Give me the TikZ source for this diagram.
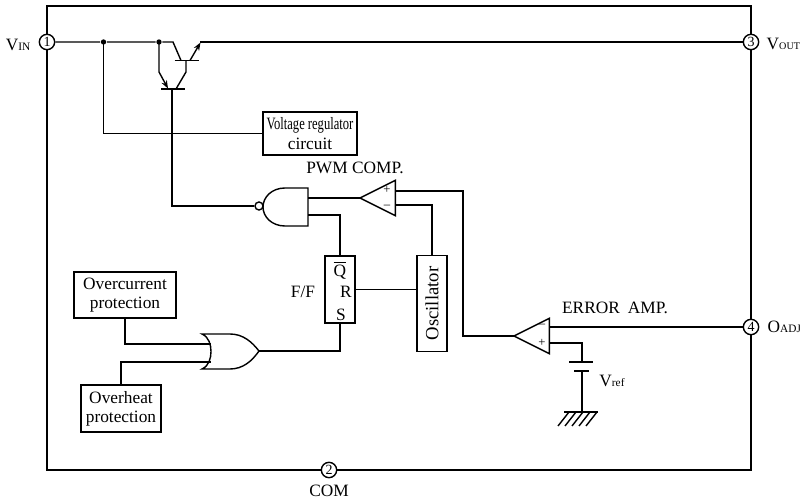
\documentclass[tikz,border=0pt]{standalone}
\usepackage{amsmath,amssymb}
\usepackage{fontspec}
\setmainfont{Liberation Serif}
\usepackage{xcolor}
\usepackage{tikz}
\usetikzlibrary{shapes.geometric,arrows.meta}
\newcommand{\lbsize}{\fontsize{13}{14.5}\selectfont}
\newcommand{\subtxt}[1]{{\fontsize{8.5}{10}\selectfont #1}}

\begin{document}
\begin{tikzpicture}[
    x=0.75pt, y=-0.75pt,
    every path/.style={line width=1.05pt, line join=miter},
    lbl/.style={font=\lbsize, inner sep=0pt, align=center},
    blockbox/.style={draw, rectangle, fill=white, inner sep=0pt, font=\lbsize, align=center},
    pin/.style={draw, circle, fill=white, minimum size=11.5pt, inner sep=0pt, font=\fontsize{10.5}{10}\selectfont},
    comparator/.style={draw, isosceles triangle, isosceles triangle stretches, shape border rotate=180,
        minimum width=26.5pt, minimum height=26.5pt, inner sep=0pt, outer sep=0pt, fill=white, anchor=apex},
    junction/.style={circle, fill=black, minimum size=4pt, inner sep=0pt},
    sign/.style={font=\fontsize{9.5}{10}\selectfont, inner sep=0pt}
]
\useasboundingbox (0,0) rectangle (800,502);

% package outline
\draw (47,6) rectangle (751,470);

% pins
\node[pin] (pin1) at (47,42) {1};
\node[pin] (pin3) at (751,42) {3};
\node[pin] (pin4) at (751,327) {4};
\node[pin] (pin2) at (329,470) {2};
\node[lbl] (vin) at (18,45) {V\subtxt{IN}};
\node[lbl, anchor=west] (vout) at (766,44) {V{\fontsize{7.6}{10}\selectfont OUT}};
\node[lbl, anchor=west] (oadj) at (767,327) {O\subtxt{ADJ}};
\node[lbl] (com) at (329,491) {COM};

% blocks
\node[blockbox, minimum width=70.5pt, minimum height=32pt] (regbox) at (310,133.5)
    {\scalebox{0.725}[1]{Voltage regulator}\\circuit};
\node[blockbox, minimum width=76.5pt, minimum height=34.5pt] (ocpbox) at (125,295)
    {Overcurrent\\protection};
\node[blockbox, minimum width=60pt, minimum height=35pt] (ohpbox) at (121,408.5)
    {Overheat\\protection};
\node[blockbox, minimum width=22.5pt, minimum height=50pt] (ffbox) at (340,289.5) {};
\node[blockbox, minimum width=22.5pt, minimum height=72pt] (oscbox) at (432,303.5)
    {\rotatebox{90}{\fontsize{14}{14}\selectfont Oscillator}};
\node[lbl] (qbar) at (340,270) {$\overline{\text{Q}}$};
\node[lbl] (rlbl) at (346,292) {R};
\node[lbl] (slbl) at (341,315) {S};
\node[lbl] (fflbl) at (303,292) {F/F};

% comparators
\node[comparator] (pwm) at (360,198) {};
\node[comparator] (err) at (514,336) {};
\node[lbl] (pwmlbl) at (355,168) {PWM COMP.};
\node[lbl] (errlbl) at (615,308) {ERROR\hspace{6pt}AMP.};
\node[sign] (pwmplus) at (387,190) {+};
\node[sign] (pwmminus) at (387,207) {--};
\node[sign] (errminus) at (542,326) {--};
\node[sign] (errplus) at (542,343) {+};

% transistors
\coordinate (outbase) at (181,60.5);
\coordinate (outemit) at (190,60.5);
\coordinate (drvcoll) at (186,60.5);
\coordinate (drvbase) at (172,89);
\node[junction] (dotreg) at (103.5,42) {};
\node[junction] (dotdrv) at (159,42) {};
\draw (174.5,60.5) -- (198.5,60.5);
\draw (161,89) -- (185,89);
\draw (pin1) -- (dotreg) -- (dotdrv) -- (173,42) -- (outbase);
\draw[-{Stealth[length=6pt,width=4.5pt]}] (outemit) -- (200.5,42.5);
\draw (200,42) -- (pin3);
\draw (drvcoll) -- (186,72) -- (176,89);
\draw[-{Stealth[length=6pt,width=4.5pt]}] (dotdrv.center) -- (159,72) -- (168,88.5);
\draw (dotreg.center) |- (regbox.west);

% gates
\node[draw, circle, minimum size=6pt, inner sep=0pt] (nandbub) at (259,206) {};
\coordinate (nandin1) at (308,198);
\coordinate (nandin2) at (308,215);
\draw (308,188) -- (285,188) .. controls (272,188) and (263,197) .. (263,207)
    .. controls (263,217) and (272,226) .. (285,226) -- (308,226) -- cycle;
\coordinate (ortip) at (259,351);
\coordinate (orin1) at (210.5,344);
\coordinate (orin2) at (210.5,362);
\draw (202,334) .. controls (209,337) and (211,345) .. (211,351.5)
    .. controls (211,358) and (209,366) .. (202,369)
    -- (230,369) .. controls (243,369) and (252,361) .. (ortip)
    .. controls (252,342) and (243,334) .. (230,334) -- cycle;

% wiring
\draw (drvbase) |- (nandbub.west);
\draw (nandin1) -- (pwm.apex);
\draw (nandin2) -| (ffbox.north);
\draw (395,191) -- (463,191) -- (463,336) -- (err.apex);
\draw (395,205) -| (oscbox.north);
\draw (ffbox.east) -- (ffbox.east -| oscbox.west);
\draw (ffbox.south) |- (ortip);
\draw (ocpbox.south) |- (orin1);
\draw (ohpbox.north) |- (orin2);
\draw (549,327) -- (pin4);

% reference voltage
\coordinate (capone) at (582,362);
\coordinate (captwo) at (582,371);
\coordinate (gnd) at (582,412);
\node[lbl] (vref) at (612,381) {V\subtxt{ref}};
\draw (549,343) -| (capone);
\draw (569,362) -- (593,362);
\draw[line width=2pt] (574,371) -- (589,371);
\draw (captwo) -- (gnd);
\draw (564,412) -- (598,412);
\foreach \hx in {569,576,583,590,597}{
    \draw (\hx,412) -- (\hx-11,426);
}
\end{tikzpicture}
\end{document}
